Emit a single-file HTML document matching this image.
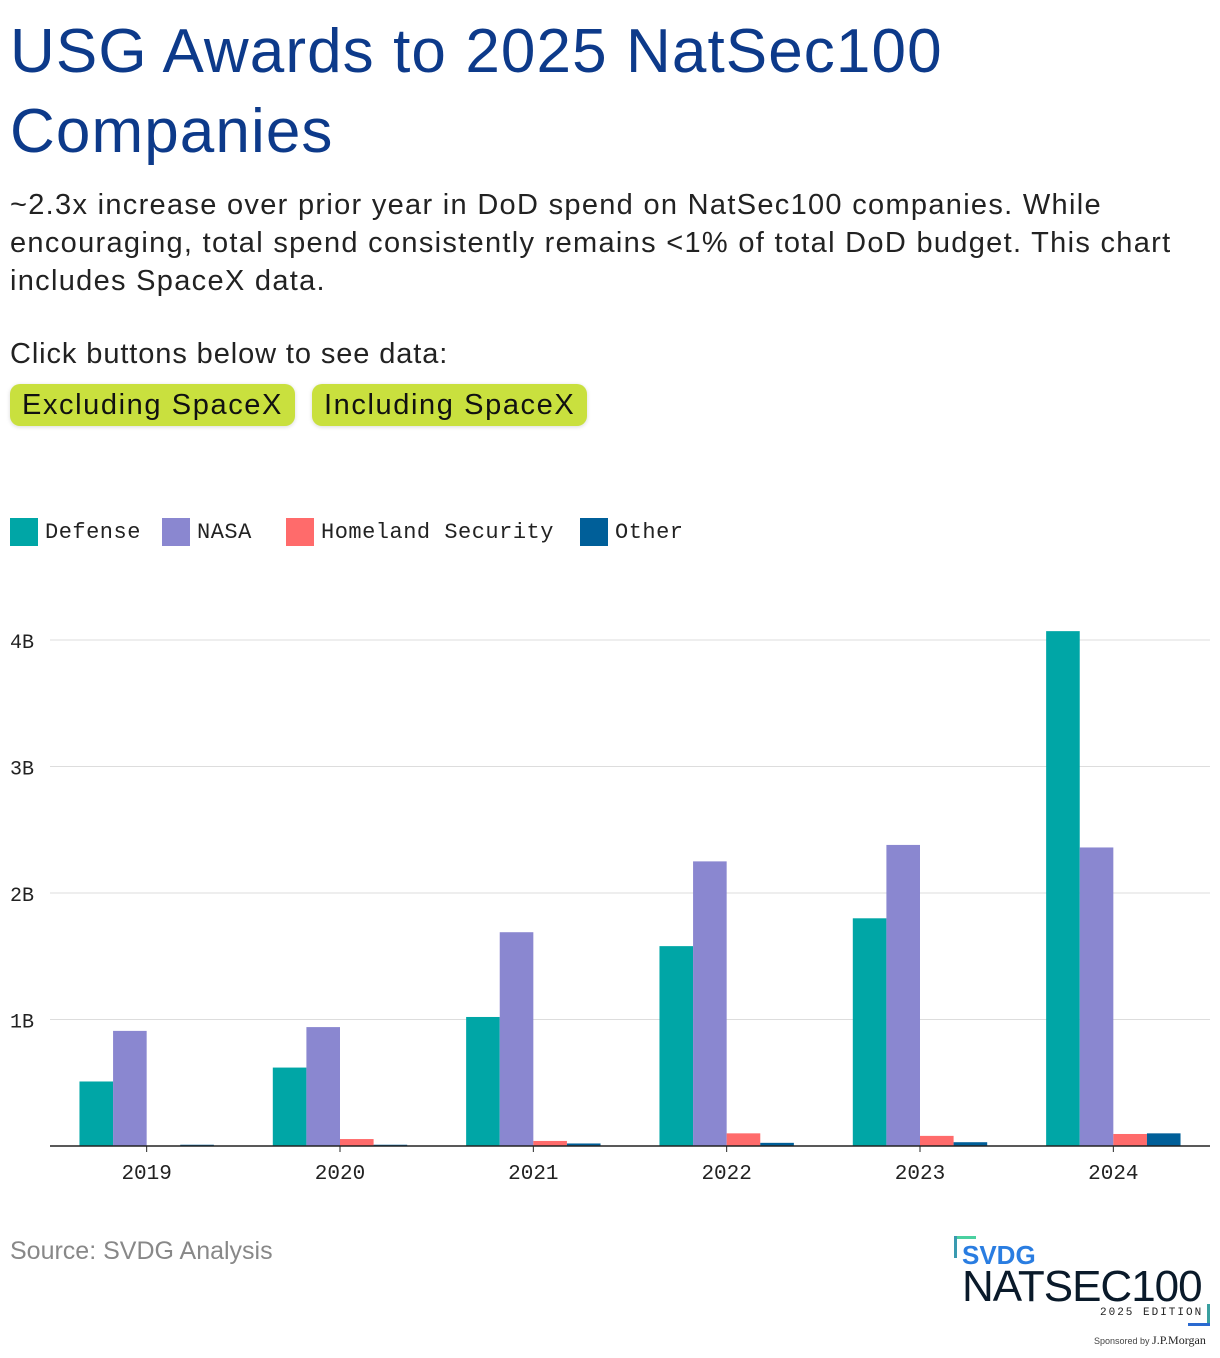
<!DOCTYPE html>
<html><head><meta charset="utf-8">
<style>
body{margin:0;width:1220px;height:1358px;background:#fff;font-family:"Liberation Sans",sans-serif;position:relative;overflow:hidden}
.abs{position:absolute}
h1{position:absolute;left:10px;top:12px;margin:0;font-weight:normal;font-size:62px;line-height:80px;color:#0d3a8a;letter-spacing:1.1px}
.sub{left:10px;top:186px;font-size:29px;line-height:38px;color:#222;width:1185px;letter-spacing:1.3px}
.btn{top:384px;height:42px;line-height:42px;background:#c9e03e;border-radius:10px;font-size:29px;color:#111;padding:0 12px;box-shadow:0 1px 4px rgba(0,0,0,.15);letter-spacing:1.6px;white-space:nowrap}
.leg{top:518px;font-family:"Liberation Mono",monospace;font-size:22px;color:#222;display:flex;align-items:center;letter-spacing:0.5px}
.sw{width:28px;height:28px;display:inline-block;margin-right:7px}
</style></head><body>
<h1>USG Awards to 2025 NatSec100<br>Companies</h1>
<div class="abs sub">~2.3x increase over prior year in DoD spend on NatSec100 companies. While encouraging, total spend consistently remains &lt;1% of total DoD budget. This chart includes SpaceX data.</div>
<div class="abs" style="left:10px;top:338px;font-size:29px;letter-spacing:0.9px;color:#222">Click buttons below to see data:</div>
<div class="abs btn" style="left:10px">Excluding SpaceX</div>
<div class="abs btn" style="left:312px">Including SpaceX</div>
<div class="abs leg" style="left:10px"><span class="sw" style="background:#00a6a6"></span>Defense</div>
<div class="abs leg" style="left:162px"><span class="sw" style="background:#8a87d0"></span>NASA</div>
<div class="abs leg" style="left:286px"><span class="sw" style="background:#ff6b6b"></span>Homeland Security</div>
<div class="abs leg" style="left:580px"><span class="sw" style="background:#005f99"></span>Other</div>
<svg id="chart" class="abs" style="left:0;top:0" width="1220" height="1358"></svg>
<div class="abs" style="left:10px;top:1237px;font-size:25px;color:#888">Source: SVDG Analysis</div>
<div class="abs" style="left:954px;top:1236px;width:258px;height:110px">
<div class="abs" style="left:0;top:0;width:22px;height:3px;background:#4ad0a0"></div>
<div class="abs" style="left:0;top:0;width:3px;height:22px;background:#3a9ab0"></div>
<div class="abs" style="left:8px;top:4px;font-size:26px;font-weight:bold;color:#2a7de1">SVDG</div>
<div class="abs" style="left:8px;top:26px;font-size:44px;color:#0a1a2a;letter-spacing:-1px;white-space:nowrap">NATSEC100</div>
<div class="abs" style="left:146px;top:71px;font-family:'Liberation Mono',monospace;font-size:11px;letter-spacing:2px;color:#222;white-space:nowrap">2025 EDITION</div>
<div class="abs" style="left:253px;top:68px;width:3px;height:22px;background:#3aa0a0"></div>
<div class="abs" style="left:234px;top:87px;width:22px;height:3px;background:#2a6ad0"></div>
<div class="abs" style="left:140px;top:97px;font-size:9px;color:#444;white-space:nowrap">Sponsored by <span style="font-family:'Liberation Serif',serif;font-size:12px;color:#222">J.P.Morgan</span></div>
</div>
<script>
const years=["2019","2020","2021","2022","2023","2024"];
const defense=[0.51,0.62,1.02,1.58,1.80,4.07];
const nasa=[0.91,0.94,1.69,2.25,2.38,2.36];
const homeland=[0.0,0.055,0.04,0.10,0.08,0.095];
const other=[0.01,0.01,0.02,0.025,0.03,0.10];
const yTicks=[1,2,3,4];
const yTickLabels=["1B","2B","3B","4B"];
const series=[[defense,"#00a6a6","defense"],[nasa,"#8a87d0","nasa"],[homeland,"#ff6b6b","homeland-security"],[other,"#005f99","other"]];
const NS="http://www.w3.org/2000/svg";
const svg=document.getElementById("chart");
const x0=50,x1=1210,yBase=1146,pxPerB=126.5;
const band=(x1-x0)/years.length, bw=33.6;
const y=v=>yBase-v*pxPerB;
function mk(t,a){const e=document.createElementNS(NS,t);for(const k in a)e.setAttribute(k,a[k]);svg.appendChild(e);return e;}
yTicks.forEach((t,i)=>{
 const l=mk("line",{x1:x0,x2:x1,y1:y(t),y2:y(t),stroke:"#ddd","stroke-width":1});
 
 
 const tx=mk("text",{x:10,y:y(t)+8,"font-family":"Liberation Mono, monospace","font-size":20,fill:"#222"});
 tx.textContent=yTickLabels[i];
 
 
});
years.forEach((yr,i)=>{
 const cx=x0+band*(i+0.5);
 series.forEach((s,j)=>{
  const v=s[0][i];
  const r=mk("rect",{x:cx-2*bw+j*bw,y:y(v),width:bw,height:v*pxPerB,fill:s[1]});
  
  
 });
 const tx=mk("text",{x:cx,y:1179,"text-anchor":"middle","font-family":"Liberation Mono, monospace","font-size":21,fill:"#222"});
 tx.textContent=yr;
 
 
 const tk=mk("line",{x1:cx,x2:cx,y1:yBase,y2:yBase+6,stroke:"#222"});
 
 
});
const ax=mk("line",{x1:x0,x2:x1,y1:yBase,y2:yBase,stroke:"#222","stroke-width":1.5});


</script>
</body></html>
